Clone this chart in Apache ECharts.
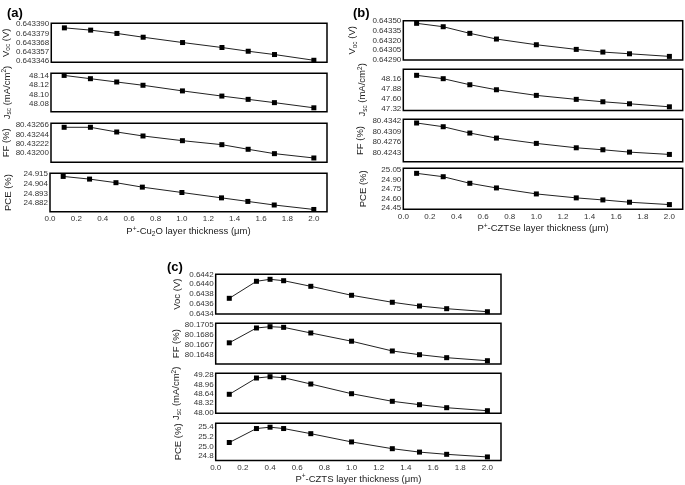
<!DOCTYPE html>
<html><head><meta charset="utf-8">
<script src="https://cdn.jsdelivr.net/npm/echarts@6/dist/echarts.min.js"></script>
<style>html,body{margin:0;padding:0;background:#fff}#c{width:685px;height:485px}</style>
</head><body><div id="c"></div>
<script>
// thickness (µm)
var xAB = [0.1, 0.3, 0.5, 0.7, 1.0, 1.3, 1.5, 1.7, 2.0];
var xC = [0.1, 0.3, 0.4, 0.5, 0.7, 1.0, 1.3, 1.5, 1.7, 2.0];
var xTicks = [0.0, 0.2, 0.4, 0.6, 0.8, 1.0, 1.2, 1.4, 1.6, 1.8, 2.0];

// (a) P+-Cu2O
var aVoc = [0.6433856, 0.6433829, 0.6433790, 0.6433745, 0.6433682, 0.6433623, 0.6433579, 0.6433540, 0.6433472];
var aJsc = [48.141, 48.134, 48.127, 48.120, 48.108, 48.097, 48.090, 48.083, 48.072];
var aFF = [80.432606, 80.432606, 80.432495, 80.432401, 80.432290, 80.432196, 80.432087, 80.431984, 80.431882];
var aPCE = [24.912, 24.909, 24.905, 24.900, 24.894, 24.888, 24.884, 24.880, 24.875];
// (b) P+-CZTSe
var bVoc = [0.643460, 0.643408, 0.643307, 0.643220, 0.643133, 0.643062, 0.643021, 0.642995, 0.642955];
var bJsc = [48.242, 48.150, 47.984, 47.847, 47.693, 47.584, 47.518, 47.463, 47.380];
var bFF = [80.43357, 80.43239, 80.43039, 80.42880, 80.42712, 80.42573, 80.42510, 80.42436, 80.42363];
var bPCE = [24.998, 24.945, 24.842, 24.769, 24.675, 24.613, 24.581, 24.545, 24.508];
// (c) P+-CZTS
var cVoc = [0.643716, 0.644059, 0.644099, 0.644071, 0.643958, 0.643777, 0.643636, 0.643561, 0.643507, 0.643446];
var cFF = [80.16715, 80.16994, 80.17018, 80.17006, 80.16900, 80.16745, 80.16561, 80.16491, 80.16435, 80.16378];
var cJsc = [48.625, 49.178, 49.222, 49.188, 48.974, 48.645, 48.387, 48.272, 48.170, 48.068];
var cPCE = [25.078, 25.361, 25.388, 25.361, 25.257, 25.090, 24.953, 24.884, 24.839, 24.786];

// y tick labels
var aVocT = [0.643346, 0.643357, 0.643368, 0.643379, 0.643390];
var aJscT = [48.08, 48.10, 48.12, 48.14];
var aFFT = [80.43200, 80.43222, 80.43244, 80.43266];
var aPCET = [24.882, 24.893, 24.904, 24.915];
var bVocT = [0.64290, 0.64305, 0.64320, 0.64335, 0.64350];
var bJscT = [47.32, 47.60, 47.88, 48.16];
var bFFT = [80.4243, 80.4276, 80.4309, 80.4342];
var bPCET = [24.45, 24.60, 24.75, 24.90, 25.05];
var cVocT = [0.6434, 0.6436, 0.6438, 0.6440, 0.6442];
var cFFT = [80.1648, 80.1667, 80.1686, 80.1705];
var cJscT = [48.00, 48.32, 48.64, 48.96, 49.28];
var cPCET = [24.8, 25.0, 25.2, 25.4];

var FONT = 'Liberation Sans, Arial, sans-serif';
var rich = {
  n: {fontSize: 9.5, fontFamily: FONT, color: '#222', lineHeight: 12},
  s: {fontSize: 6.5, fontFamily: FONT, color: '#222', lineHeight: 7, verticalAlign: 'bottom'},
  p: {fontSize: 6.5, fontFamily: FONT, color: '#222', lineHeight: 7, verticalAlign: 'top'}
};
var NVoc = '{n|V}{s|oc}{n| (V)}';
var NVoc2 = '{n|Voc (V)}';
var NJsc = '{n|J}{s|sc}{n| (mA/cm}{p|2}{n|)}';
var NFF = '{n|FF (%)}';
var NPCE = '{n|PCE (%)}';

var panels = [
  {left: 50, width: 277, xgap: 14, xname: '{n|P}{p|+}{n|-Cu}{s|2}{n|O layer thickness (μm)}', x: xAB, rows: [
    {top: 23.3, h: 39, d: aVoc, t: aVocT, min: 0.6433448, max: 0.6433910, dec: 6, name: NVoc, gap: 39},
    {top: 73.3, h: 38.4, d: aJsc, t: aJscT, min: 48.0637, max: 48.1455, dec: 2, name: NJsc, gap: 38},
    {top: 123.3, h: 39, d: aFF, t: aFFT, min: 80.43178, max: 80.43270, dec: 5, name: NFF, gap: 39},
    {top: 173.3, h: 38.4, d: aPCE, t: aPCET, min: 24.8725, max: 24.9155, dec: 3, name: NPCE, gap: 36}
  ]},
  {left: 403.3, width: 279.4, xgap: 13.5, xname: '{n|P}{p|+}{n|-CZTSe layer thickness (μm)}', x: xAB, rows: [
    {top: 20.7, h: 39.3, d: bVoc, t: bVocT, min: 0.64290, max: 0.64350, dec: 5, name: NVoc, gap: 45},
    {top: 69.3, h: 41.2, d: bJsc, t: bJscT, min: 47.279, max: 48.407, dec: 2, name: NJsc, gap: 35},
    {top: 119.3, h: 42.4, d: bFF, t: bFFT, min: 80.42133, max: 80.43474, dec: 4, name: NFF, gap: 37},
    {top: 168.3, h: 41, d: bPCE, t: bPCET, min: 24.434, max: 25.077, dec: 2, name: NPCE, gap: 34}
  ]},
  {left: 215.7, width: 285.3, xgap: 12.5, xname: '{n|P}{p|+}{n|-CZTS layer thickness (μm)}', x: xC, rows: [
    {top: 274.3, h: 39.7, d: cVoc, t: cVocT, min: 0.6434, max: 0.6442, dec: 4, name: NVoc2, gap: 32},
    {top: 323.3, h: 40.7, d: cFF, t: cFFT, min: 80.16316, max: 80.17082, dec: 4, name: NFF, gap: 33},
    {top: 373.3, h: 40, d: cJsc, t: cJscT, min: 47.98, max: 49.338, dec: 2, name: NJsc, gap: 33},
    {top: 423.3, h: 38.4, d: cPCE, t: cPCET, min: 24.714, max: 25.467, dec: 1, name: NPCE, gap: 31}
  ]}
];

var grids = [], xAxes = [], yAxes = [], series = [];
panels.forEach(function (p) {
  p.rows.forEach(function (r, i) {
    var idx = grids.length;
    var last = i === p.rows.length - 1;
    grids.push({left: p.left, top: r.top, width: p.width, height: r.h, show: true,
      borderColor: '#000', borderWidth: 1.5, backgroundColor: 'transparent', containLabel: false});
    xAxes.push({type: 'value', gridIndex: idx, min: 0, max: 2.1,
      axisLine: {show: false}, axisTick: {show: false}, splitLine: {show: false},
      axisLabel: {show: last, customValues: xTicks, margin: 3, fontSize: 8, fontFamily: FONT, color: '#333',
        showMinLabel: true, showMaxLabel: true, hideOverlap: false,
        formatter: function (v) { return v.toFixed(1); }},
      name: last ? p.xname : '', nameLocation: 'middle', nameGap: p.xgap, nameTextStyle: {rich: rich}
    });
    var dec = r.dec;
    yAxes.push({type: 'value', gridIndex: idx, min: r.min, max: r.max,
      axisLine: {show: false}, axisTick: {show: false}, splitLine: {show: false},
      axisLabel: {customValues: r.t, margin: 2, fontSize: 8, fontFamily: FONT, color: '#333',
        showMinLabel: true, showMaxLabel: true, hideOverlap: false,
        formatter: function (v) { return v.toFixed(dec); }},
      name: r.name, nameLocation: 'middle', nameRotate: 90, nameGap: r.gap,
      nameTextStyle: {rich: rich}
    });
    series.push({type: 'line', xAxisIndex: idx, yAxisIndex: idx,
      data: p.x.map(function (xv, k) { return [xv, r.d[k]]; }),
      symbol: 'rect', symbolSize: 5, showSymbol: true,
      lineStyle: {color: '#222', width: 1}, itemStyle: {color: '#000'},
      silent: true, animation: false, clip: false});
  });
});

var chart = echarts.init(document.getElementById('c'), null, {renderer: 'canvas'});
chart.setOption({
  animation: false,
  backgroundColor: '#fff',
  title: [
    {text: '(a)', left: 2, top: 2, textStyle: {fontSize: 13, fontWeight: 'bold', fontFamily: FONT, color: '#000'}},
    {text: '(b)', left: 348, top: 2, textStyle: {fontSize: 13, fontWeight: 'bold', fontFamily: FONT, color: '#000'}},
    {text: '(c)', left: 162, top: 256, textStyle: {fontSize: 13, fontWeight: 'bold', fontFamily: FONT, color: '#000'}}
  ],
  grid: grids, xAxis: xAxes, yAxis: yAxes, series: series
});
</script></body></html>
